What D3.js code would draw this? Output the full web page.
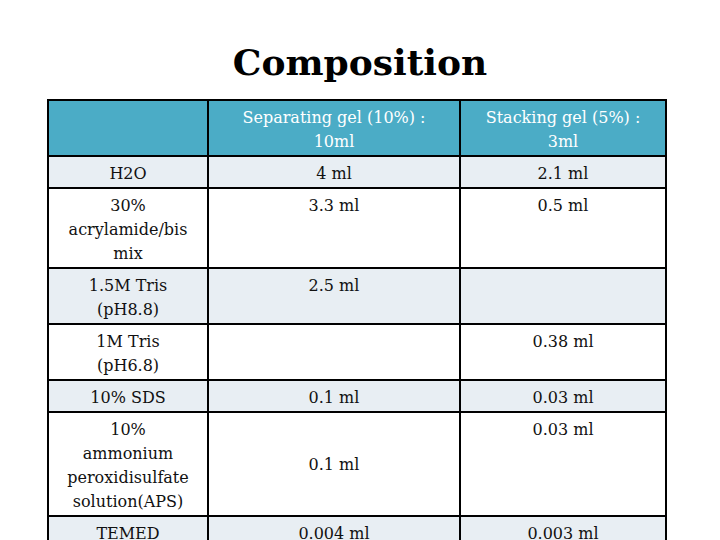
<!DOCTYPE html>
<html>
<head>
<meta charset="utf-8">
<script src="https://cdn.jsdelivr.net/npm/d3@7"></script>
<style>
  body { margin: 0; background: #fff; overflow: hidden; }
  svg { display: block; }
  text { font-family: "DejaVu Serif", "Liberation Serif", serif; }
</style>
</head>
<body>
<svg id="chart" width="720" height="540"></svg>
<script>
// table content
var headers = [[""], ["Separating gel (10%) :", "10ml"], ["Stacking gel (5%) :", "3ml"]];
var rowLabels = [
  ["H2O"],
  ["30%", "acrylamide/bis", "mix"],
  ["1.5M  Tris", "(pH8.8)"],
  ["1M Tris", "(pH6.8)"],
  ["10% SDS"],
  ["10%", "ammonium", "peroxidisulfate", "solution(APS)"],
  ["TEMED"]
];
var sepValues = ["4 ml", "3.3 ml", "2.5 ml", "", "0.1 ml", "0.1 ml", "0.004 ml"];
var stackValues = ["2.1 ml", "0.5 ml", "", "0.38 ml", "0.03 ml", "0.03 ml", "0.003 ml"];
var sepMiddle = [false, false, false, false, false, true, false]; // vertically centred cells

var svg = d3.select("#chart");
var colEdges = [48, 208, 460, 666];
var lineH = 24, pad = 8, tableTop = 100;

svg.append("text")
  .attr("x", 360).attr("y", 75)
  .attr("text-anchor", "middle")
  .attr("font-size", 36).attr("font-weight", "bold")
  .text("Composition");

// row heights from line counts
var rows = [{lines: headers, n: 2, header: true}];
rowLabels.forEach(function (l, i) {
  rows.push({lines: [l, [sepValues[i]], [stackValues[i]]], n: l.length, header: false, mid: sepMiddle[i]});
});
var y = tableTop;
rows.forEach(function (r) { r.y0 = y; r.h = r.n * lineH + pad; y += r.h; });

var g = svg.append("g");
rows.forEach(function (r, ri) {
  var fill = r.header ? "#4bacc6" : (ri % 2 === 1 ? "#e8eef3" : "#ffffff");
  g.append("rect").attr("x", colEdges[0]).attr("y", r.y0)
    .attr("width", colEdges[3] - colEdges[0]).attr("height", r.h).attr("fill", fill);
  r.lines.forEach(function (cell, ci) {
    var cx = (colEdges[ci] + colEdges[ci + 1]) / 2;
    var startY = r.y0 + 17;
    if (ci === 1 && r.mid) startY = r.y0 + r.h / 2;
    g.selectAll(null).data(cell).enter().append("text")
      .attr("x", cx)
      .attr("y", function (d, k) { return startY + k * lineH; })
      .attr("dy", "0.35em")
      .attr("text-anchor", "middle")
      .attr("font-size", 16)
      .attr("fill", r.header ? "#ffffff" : "#111")
      .text(function (d) { return d; });
  });
});

// grid lines
var bottom = y;
colEdges.forEach(function (x) {
  g.append("line").attr("x1", x).attr("x2", x).attr("y1", tableTop).attr("y2", bottom)
    .attr("stroke", "#000").attr("stroke-width", 2);
});
rows.forEach(function (r) {
  g.append("line").attr("x1", colEdges[0] - 1).attr("x2", colEdges[3] + 1)
    .attr("y1", r.y0).attr("y2", r.y0).attr("stroke", "#000").attr("stroke-width", 2);
});
</script>
</body>
</html>
